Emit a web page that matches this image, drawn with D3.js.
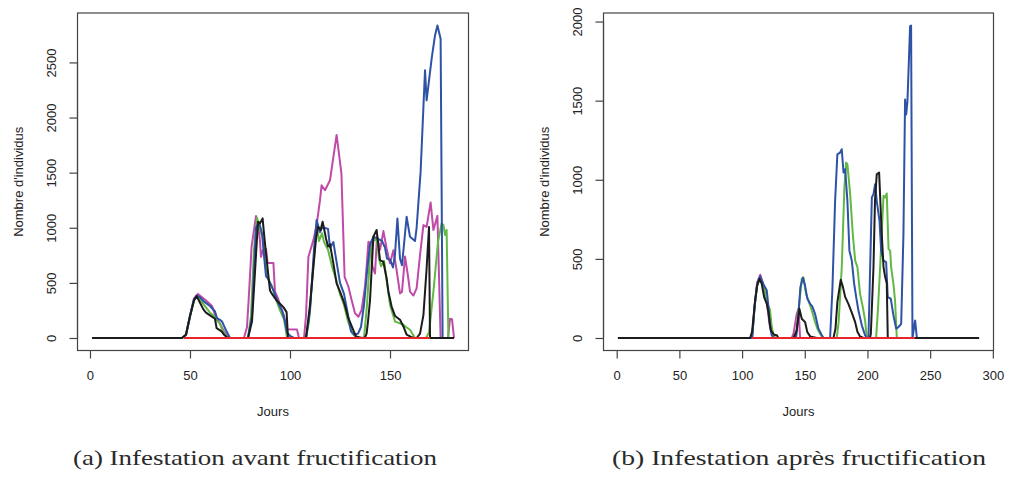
<!DOCTYPE html>
<html lang="fr">
<head>
    <meta charset="utf-8">
    <title>Infestation</title>
    <script type="text/javascript" src="https://d3js.org/d3.v7.min.js"></script>
</head>
<style>
body { margin: 0; background: #fff; }
.axis text { font-family: "Liberation Sans", Arial, sans-serif; font-size: 13px; fill: #222; }
.axis path, .axis line { stroke: #444; stroke-width: 1.2px; }
.lab { font-family: "Liberation Sans", Arial, sans-serif; font-size: 13px; fill: #222; }
.cap { font-family: "Liberation Serif", "Times New Roman", serif; font-size: 21px; fill: #2a2a2a; }
.serie { fill: none; stroke-width: 2px; stroke-linejoin: round; }
</style>
<body>
<script type="text/javascript">

    // (a) infestation avant fructification : [jour, nombre]
    var avantMagenta = [[1,0],[46,0],[48,30],[50,200],[52,360],[54,400],[56,370],[58,340],[61,290],[62,240],[63,180],[65,130],[67,60],[69,0],
        [77,0],[78.5,100],[79.5,400],[80.8,830],[83,1106],[84,1030],[85,880],[85.5,736],[86.5,800],[88,810],[88.8,680],[91.7,680],[92.5,420],[94,360],[95,300],[97,200],[98.5,80],[103.5,76],[104.5,0],
        [107,0],[108,200],[109.2,737],[111.7,888],[113.3,1023],[115,1250],[115.8,1386],[117.5,1340],[120,1431],[123.3,1842],[125.7,1494],[127.3,555],[129.2,465],[130.8,344],[132.5,224],[134.2,193],[135.8,254],[137.5,465],[138.3,646],[139.2,873],[140.5,860],[141.2,650],[142.5,585],[143.5,920],[145,800],[146.7,970],[148.3,812],[150,677],[151.7,797],[153,650],[155,405],[156,420],[157.5,740],[159,560],[160,420],[161.7,385],[163.3,450],[165,752],[166.7,1024],[168.3,1008],[170.3,1230],[171.7,979],[173.7,1108],[175.3,0],
        [179,0],[180,175],[181,170],[182,0]];
    var avantVert = [[1,0],[46,0],[48,30],[50,190],[52,340],[53.5,380],[55,350],[57,300],[60,230],[62,200],[63.5,160],[65,130],[66,80],[67.5,30],[69,0],
        [79,0],[80.5,200],[82,800],[83.5,1090],[85,980],[86.5,900],[87.5,700],[88.5,560],[89.5,520],[91,470],[93,350],[95,250],[97,170],[98,60],[98.5,0],
        [108,0],[109.5,150],[111,500],[112.5,850],[113.5,1000],[114.5,880],[116,950],[117,870],[119,800],[121,650],[123,530],[125,400],[127,300],[129,150],[131,50],[133,0],
        [137,0],[138.5,300],[140,750],[142,900],[143.5,880],[144.5,720],[145.5,650],[147,700],[148.5,500],[150,300],[152.5,150],[154,140],[156.7,120],[158,100],[160,75],[161.5,30],[162.5,0],
        [168,0],[169.5,50],[171.7,420],[174,873],[175.8,1040],[176.7,1025],[177.5,935],[178.3,980],[179.2,0],[182,0]];
    var avantBleu = [[1,0],[46,0],[48,30],[50,200],[52,350],[53.5,385],[55,370],[57,330],[60,290],[62.5,240],[63.5,180],[65,165],[66,150],[67,110],[68,70],[70,0],
        [79,0],[81,200],[82,600],[83,1000],[84.5,1050],[86,950],[87,750],[88,560],[89,540],[90,500],[92,420],[94,320],[96,250],[97.5,150],[98.5,50],[100,20],[102,0],
        [108,0],[110,250],[112,800],[113.3,1070],[115,960],[116,1000],[117,1000],[119,990],[120,820],[121.7,870],[123,720],[125,500],[127,400],[129,210],[130.5,60],[132,30],[134,40],[135.5,100],[137,300],[138.5,600],[140,850],[141.7,920],[144,900],[146,880],[147.5,820],[148.5,720],[150,710],[151.5,640],[152.5,760],[153.7,1085],[155,720],[156,660],[158.3,1100],[160,918],[162.5,880],[163.3,1000],[165.3,1509],[167.5,2428],[168.3,2156],[170.8,2533],[172.5,2745],[173.7,2835],[175.3,2715],[176.3,0],[182,0]];
    var avantNoir = [[1,0],[46,0],[48,30],[50,200],[52,340],[53.3,382],[55,320],[56.7,260],[58,230],[60,205],[62.5,175],[63.3,90],[65.8,60],[67,30],[69,0],
        [79,0],[81,150],[82.5,600],[84,1055],[85,1040],[86.3,1085],[87,950],[88,765],[90,430],[91,400],[93.3,340],[95,310],[96.7,280],[98.3,235],[99,0],
        [108,0],[110,300],[111.7,645],[113,900],[114,1010],[115.3,980],[116.3,1055],[117.5,950],[118,900],[119,830],[120,850],[121.7,675],[123.3,495],[125,420],[126.7,340],[128,260],[129,190],[131.7,70],[133,15],[136,0],
        [137.5,5],[138.3,40],[139,150],[140,340],[141.7,920],[143.3,980],[144,870],[145,706],[146.7,690],[148.3,540],[149.2,420],[150.8,285],[152.5,200],[155,165],[156.7,105],[158.3,30],[160,15],[161.7,0],
        [163.3,0],[165,40],[166.7,208],[168.3,630],[169.5,1008],[170,0],[182,0]];
    var avantRouge = [[47,0],[170,0]];

    // (b) infestation après fructification
    var apresMagenta = [[1,0],[108,0],[110,200],[112,350],[114.5,400],[117.5,320],[120,210],[122,80],[124,20],[126,0],[139.6,0],[141,27],[143.6,153],[145,185],[146.3,0],[289,0]];
    var apresVert = [[1,0],[108,0],[110,200],[112,330],[114.5,380],[116,350],[118,300],[120,220],[122.3,177],[123.5,80],[125,20],[126.5,0],
        [143,0],[145,174],[147.6,374],[148.9,384],[151,280],[152.9,237],[155.6,174],[158.2,101],[160,60],[162.2,27],[164.4,0],
        [175.5,0],[177,100],[179.5,447],[181.6,951],[183,1109],[184,1098],[186.2,909],[188.3,657],[190.2,489],[192,447],[194.1,279],[196.3,195],[198.1,111],[199.5,0],
        [206.9,0],[208.5,200],[210.1,447],[212.8,899],[214.1,888],[215.4,913],[216.8,563],[218.1,552],[218.9,447],[220.7,342],[222,237],[223.4,0],[289,0]];
    var apresBleu = [[1,0],[108,0],[110,200],[112,340],[114.5,390],[117,340],[119.7,300],[121,200],[122,100],[123.5,20],[125,0],
        [143,0],[145,150],[146.5,320],[148.5,380],[150,340],[152,250],[154.3,216],[156,200],[158.2,153],[160.9,59],[163.6,17],[165,0],
        [170.2,0],[172,300],[174.2,867],[176,1161],[178.2,1172],[179.5,1193],[180.9,1046],[182.2,1067],[184,867],[185.6,552],[187.5,489],[189.4,342],[191,258],[192.8,174],[195.5,80],[198.1,17],[199.5,0],
        [200.8,0],[202,400],[203.5,888],[204.8,909],[206.1,972],[207.4,867],[209.6,741],[210.9,552],[212.8,489],[214.9,479],[216.2,258],[218.6,248],[220.7,143],[222.9,59],[224.7,69],[226.9,90],[228.7,657],[230,1508],[230.9,1413],[231.9,1497],[234,1970],[234.8,1975],[235.9,0],[238,111],[239.4,0],[289,0]];
    var apresNoir = [[1,0],[106.4,0],[108,40],[110.4,237],[112,330],[113.8,374],[115.7,342],[117.6,258],[119.7,216],[121,164],[122.9,48],[125.5,21],[127.7,17],[129,0],
        [141,0],[143.6,48],[145.7,185],[147.6,122],[150.3,100],[152,38],[154.3,10],[159.6,0],
        [172.9,0],[174.5,60],[176,227],[178.7,368],[180.5,320],[182.2,260],[184.8,216],[187.5,160],[190.2,100],[192,40],[194.1,10],[196.8,0],
        [202,0],[202.7,27],[204.8,447],[206,867],[207.4,1035],[209.3,1046],[211.4,657],[212.8,450],[214,390],[215.4,346],[216.2,0],[289,0]];
    var apresRouge = [[108,0],[238,0]];

    var ticksXa = [0, 50, 100, 150],
        ticksYa = [0, 500, 1000, 1500, 2000, 2500],
        ticksXb = [0, 50, 100, 150, 200, 250, 300],
        ticksYb = [0, 500, 1000, 1500, 2000];

    var couleurs = { magenta: "#c04aa8", vert: "#62b845", bleu: "#2e52a6", noir: "#1c1c1c", rouge: "#e8252a" };

    var svg = d3.select("body").append("svg").attr("width", 1010).attr("height", 481);

    function panneau(left, right, nbJours, series, ticksX, ticksY, legende, capX, capLen) {
        var top = 13, bottom = 350.5;
        var ymax = d3.max(series, function(s) { return d3.max(s.data, function(d) { return d[1]; }); });
        var ex = (nbJours - 1) * 0.04, ey = ymax * 0.04;
        var x = d3.scaleLinear().domain([1 - ex, nbJours + ex]).range([left, right]);
        var y = d3.scaleLinear().domain([-ey, ymax + ey]).range([bottom, top]);

        var g = svg.append("g");
        var line = d3.line().x(function(d) { return x(d[0]); }).y(function(d) { return y(d[1]); });

        series.forEach(function(s) {
            g.append("path").attr("class", "serie").attr("d", line(s.data))
                .attr("stroke", couleurs[s.col])
                .attr("stroke-width", s.col == "rouge" ? 1.6 : 2);
        });

        g.append("rect").attr("x", left).attr("y", top).attr("width", right - left).attr("height", bottom - top)
            .attr("fill", "none").attr("stroke", "#444").attr("stroke-width", 1.2);

        var ax = g.append("g").attr("class", "axis").attr("transform", "translate(0," + bottom + ")")
            .call(d3.axisBottom(x).tickValues(ticksX).tickFormat(d3.format("d")).tickSize(8).tickSizeOuter(0));
        ax.select(".domain").attr("d", "M" + x(ticksX[0]) + ",0H" + x(ticksX[ticksX.length - 1]));
        ax.selectAll("text").attr("y", 20);

        var ay = g.append("g").attr("class", "axis").attr("transform", "translate(" + left + ",0)")
            .call(d3.axisLeft(y).tickValues(ticksY).tickFormat(d3.format("d")).tickSize(8).tickSizeOuter(0));
        ay.select(".domain").attr("d", "M0," + y(ticksY[0]) + "V" + y(ticksY[ticksY.length - 1]));
        ay.selectAll("text").attr("x", null).attr("dy", "0.35em")
            .attr("text-anchor", "middle")
            .attr("transform", "translate(-26,0) rotate(-90)");

        g.append("text").attr("class", "lab").attr("x", (left + right) / 2).attr("y", 416)
            .attr("text-anchor", "middle").text("Jours");
        g.append("text").attr("class", "lab").attr("text-anchor", "middle").attr("dy", "0.35em")
            .attr("transform", "translate(" + (left - 59.5) + "," + ((top + bottom) / 2) + ") rotate(-90)")
            .text("Nombre d'individus");

        g.append("text").attr("class", "cap").attr("x", capX).attr("y", 465)
            .attr("textLength", capLen).attr("lengthAdjust", "spacingAndGlyphs")
            .text(legende);
    }

    panneau(77.5, 468.5, 182, [
        { col: "magenta", data: avantMagenta },
        { col: "vert", data: avantVert },
        { col: "bleu", data: avantBleu },
        { col: "noir", data: avantNoir },
        { col: "rouge", data: avantRouge }
    ], ticksXa, ticksYa, "(a) Infestation avant fructification", 73, 364);

    panneau(603.5, 993.5, 289, [
        { col: "magenta", data: apresMagenta },
        { col: "vert", data: apresVert },
        { col: "bleu", data: apresBleu },
        { col: "noir", data: apresNoir },
        { col: "rouge", data: apresRouge }
    ], ticksXb, ticksYb, "(b) Infestation après fructification", 612, 374);

</script>
</body>
</html>
